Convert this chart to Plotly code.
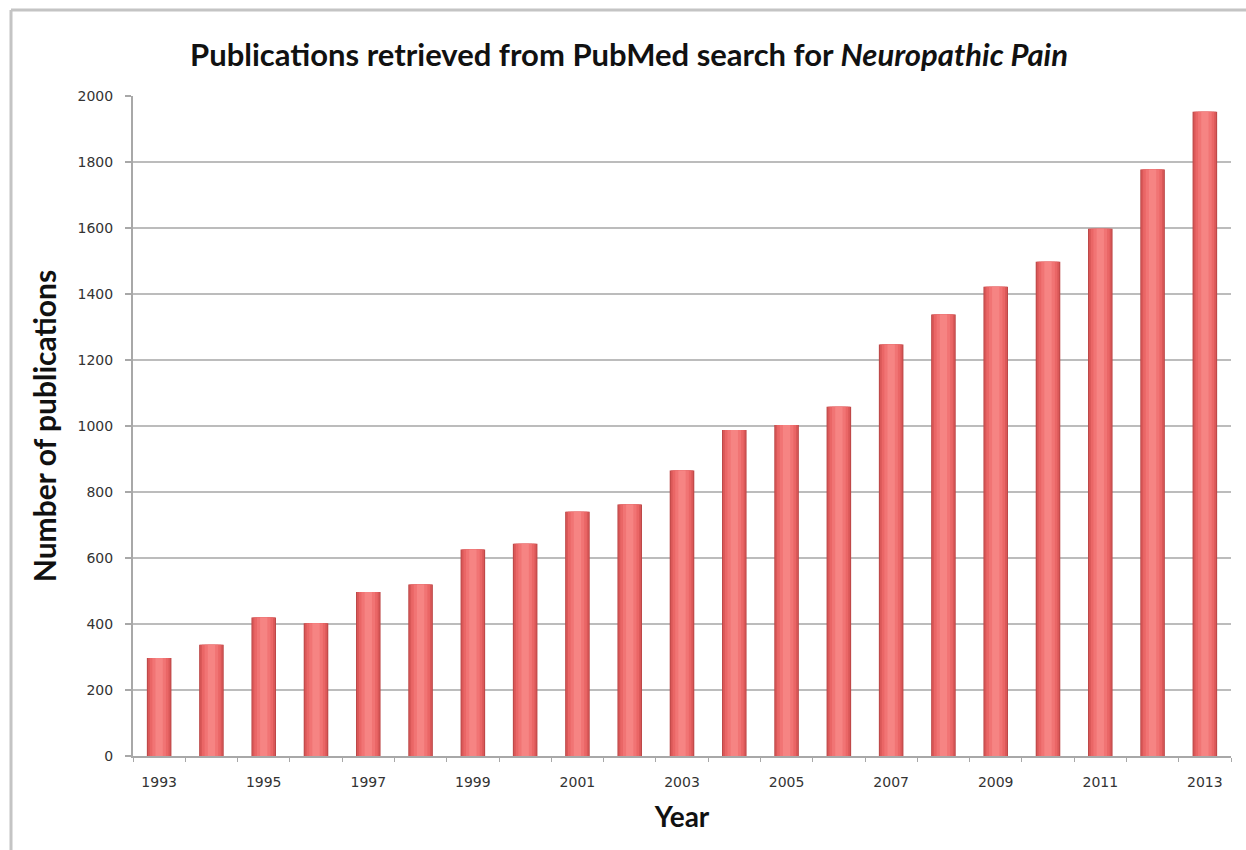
import plotly.graph_objects as go

years = list(range(1993, 2014))
publications = [297, 337, 420, 402, 497, 520, 626, 643, 740, 762,
                865, 988, 1003, 1058, 1247, 1338, 1422, 1498, 1598, 1777, 1952]

x_tick_vals = [1993, 1995, 1997, 1999, 2001, 2003, 2005, 2007, 2009, 2011, 2013]
x_tick_text = [str(v) for v in x_tick_vals]
y_tick_vals = [0, 200, 400, 600, 800, 1000, 1200, 1400, 1600, 1800, 2000]

fig = go.Figure()

# layered bars to give a cylindrical shading
layers = [
    (0.47, "#bd4848"),
    (0.43, "#da5858"),
    (0.36, "#ea6666"),
    (0.26, "#f17474"),
    (0.14, "#f68483"),
]
for w, c in layers:
    fig.add_trace(go.Bar(
        x=years, y=publications, width=w,
        marker=dict(color=c, line=dict(width=0)),
        hoverinfo="x+y", showlegend=False,
    ))

fig.update_layout(
    width=1246, height=850,
    barmode="overlay",
    paper_bgcolor="white", plot_bgcolor="white",
    margin=dict(l=133, r=15, t=96, b=94),
    title=dict(
        text="<b>Publications retrieved from PubMed search for <i>Neuropathic Pain</i></b>",
        x=629/1246, xref="container", xanchor="center",
        y=1 - 55/850, yref="container", yanchor="middle",
        font=dict(family="Lato, Open Sans, sans-serif", size=31, color="#111111"),
    ),
    xaxis=dict(
        range=[1992.5, 2013.5],
        tickmode="array", tickvals=x_tick_vals, ticktext=x_tick_text,
        ticks="", showgrid=False,
        showline=True, linecolor="#a8a8a8", linewidth=2,
        tickfont=dict(family="DejaVu Sans, sans-serif", size=14, color="#333333"),
        ticklabelstandoff=12,
        minor=dict(ticks="outside", tick0=1992.5, dtick=1, ticklen=4,
                   tickcolor="#a8a8a8", tickwidth=1, showgrid=False),
        title=dict(text="<b>Year</b>",
                   font=dict(family="Lato, Open Sans, sans-serif", size=28, color="#111111"),
                   standoff=19),
        zeroline=False,
    ),
    yaxis=dict(
        range=[0, 2000],
        tickmode="array", tickvals=y_tick_vals,
        ticks="outside", ticklen=6, tickcolor="#a8a8a8", tickwidth=2,
        showgrid=True, gridcolor="#bcbcbc", gridwidth=2,
        showline=True, linecolor="#a8a8a8", linewidth=2,
        tickfont=dict(family="DejaVu Sans, sans-serif", size=14, color="#333333"),
        ticklabelstandoff=9,
        title=dict(text="<b>Number of publications</b>",
                   font=dict(family="Lato, Open Sans, sans-serif", size=30, color="#111111"),
                   standoff=12),
        zeroline=False,
    ),
    shapes=[
        dict(type="line", xref="paper", yref="paper",
             x0=-122/1098, x1=(1246-133)/1098, y0=(756-10)/660, y1=(756-10)/660,
             line=dict(color="#c4c4c4", width=3)),
        dict(type="line", xref="paper", yref="paper",
             x0=-122/1098, x1=-122/1098, y0=(756-10)/660, y1=-(850-756)/660,
             line=dict(color="#c4c4c4", width=3)),
    ],
)

fig.write_html("out.html")
